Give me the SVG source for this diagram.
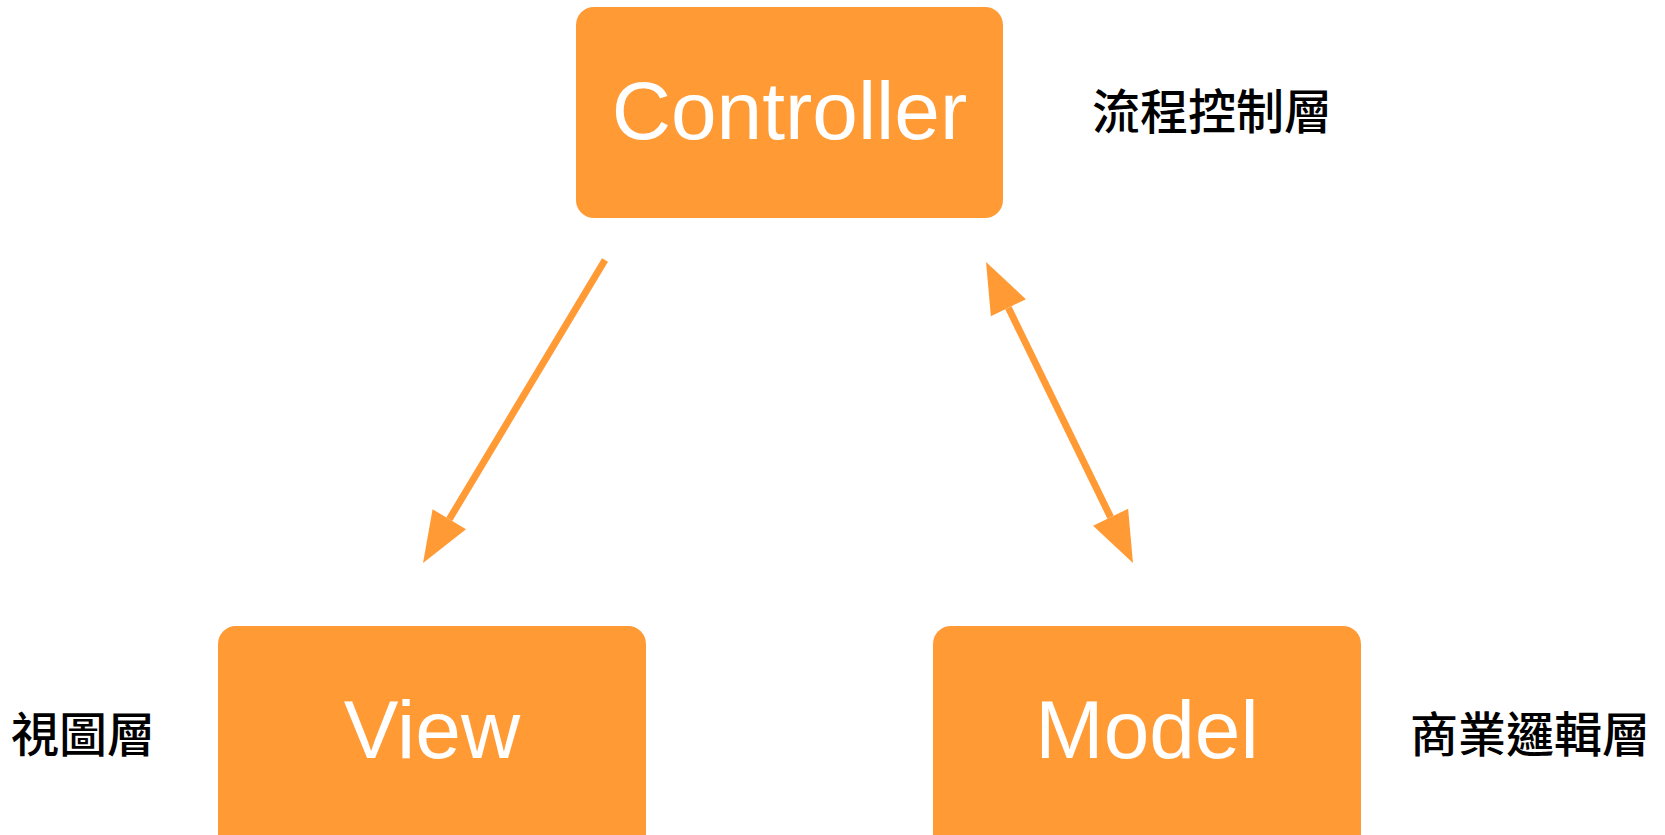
<svg xmlns="http://www.w3.org/2000/svg" width="1665" height="835" viewBox="0 0 1665 835">
  <style>
    .box { fill: #FF9A35; }
    .name { font-family: "Liberation Sans", Arial, sans-serif; font-size: 82px; fill: #FFFFFF; text-anchor: middle; }
    .layer { font-family: "Noto Sans CJK TC", "Noto Sans CJK SC", sans-serif; font-size: 48px; font-weight: 500; fill: #000000; }
    .conn { stroke: #FF9A35; stroke-width: 7; fill: none; }
  </style>
  <defs>
    <marker id="arrow" markerUnits="userSpaceOnUse" markerWidth="52" markerHeight="40" refX="0" refY="20" orient="auto-start-reverse" overflow="visible">
      <path d="M0,0.5 L51,20 L0,39.5 Z" fill="#FF9A35"/>
    </marker>
  </defs>
  <rect width="1665" height="835" fill="#FFFFFF"/>
  <g id="controller">
    <rect class="box" x="576" y="7" width="427" height="211" rx="18"/>
    <text class="name" x="789.5" y="139">Controller</text>
  </g>
  <g id="view">
    <rect class="box" x="218" y="626" width="428" height="230" rx="18"/>
    <text class="name" x="432" y="758">View</text>
  </g>
  <g id="model">
    <rect class="box" x="933" y="626" width="428" height="230" rx="18"/>
    <text class="name" x="1147" y="758">Model</text>
  </g>
  <g id="label-controller">
    <text class="layer" x="1092" y="129">流程控制層</text>
  </g>
  <g id="label-view">
    <text class="layer" x="11" y="752">視圖層</text>
  </g>
  <g id="label-model">
    <text class="layer" x="1410" y="752">商業邏輯層</text>
  </g>
  <g id="connectors">
    <line class="conn" x1="605" y1="260" x2="449.3" y2="519.3" marker-end="url(#arrow)"/>
    <line class="conn" x1="1008.4" y1="307.8" x2="1110.6" y2="517.2" marker-start="url(#arrow)" marker-end="url(#arrow)"/>
  </g>
</svg>
